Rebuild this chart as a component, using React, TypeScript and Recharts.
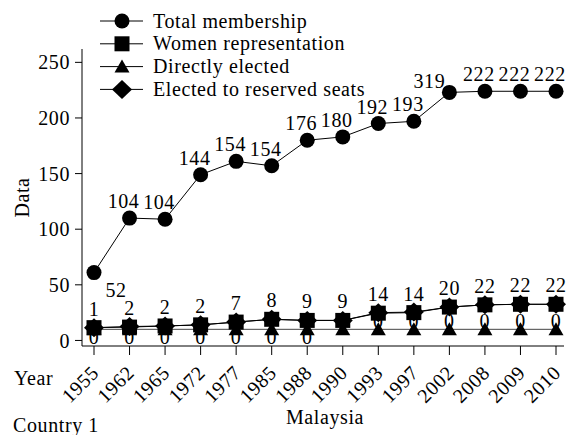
import React from "react";
import { LineChart, Line, XAxis, YAxis, Legend, LabelList, Label } from "recharts";

const FONT = "'Liberation Serif', 'Times New Roman', serif";

const years = ["1955", "1962", "1965", "1972", "1977", "1985", "1988", "1990", "1993", "1997", "2002", "2008", "2009", "2010"];

// plotted positions
const totalMembership = [61, 110, 109, 149, 161, 157, 180, 183, 195, 197, 223, 224, 224, 224];
const womenRepresentation = [11.5, 12, 13, 14, 16.5, 19, 18, 18, 24.5, 25, 30, 32, 32.5, 32.5];
const directlyElected = [10, 10, 10, 10, 10, 10, 10, 10, 10, 10, 10, 10, 10, 10];
const reservedSeats = [11.5, 12.5, 13, 14, 16.5, 19, 18, 18, 25, 25.5, 30, 32, 32.5, 32.5];

// the printed value labels
const totalLabels = ["52", "104", "104", "144", "154", "154", "176", "180", "192", "193", "319", "222", "222", "222"];
const womenLabels = ["1", "2", "2", "2", "7", "8", "9", "9", "14", "14", "20", "22", "22", "22"];
const directLabels = ["0", "0", "0", "0", "0", "0", "0", "0", "0", "0", "0", "0", "0", "0"];

const yTicks = [0, 50, 100, 150, 200, 250];

type Shape = "circle" | "square" | "triangle" | "diamond";

const seriesList: { key: string; name: string; shape: Shape }[] = [
  { key: "total", name: "Total membership", shape: "circle" },
  { key: "women", name: "Women representation", shape: "square" },
  { key: "direct", name: "Directly elected", shape: "triangle" },
  { key: "reserved", name: "Elected to reserved seats", shape: "diamond" },
];

const data = years.map((year, i) => ({
  year,
  total: totalMembership[i],
  women: womenRepresentation[i],
  direct: directlyElected[i],
  reserved: reservedSeats[i],
  totalLabel: totalLabels[i],
  womenLabel: womenLabels[i],
}));

const textStyle = { fontFamily: FONT, fontSize: 20, fill: "#000", letterSpacing: 0.6 };

function Marker({ shape, cx, cy }: { shape: Shape; cx: number; cy: number }) {
  if (shape === "circle") return <circle cx={cx} cy={cy} r={7.5} fill="#000" />;
  if (shape === "square") return <rect x={cx - 7.5} y={cy - 7.5} width={15} height={15} fill="#000" />;
  if (shape === "triangle")
    return <polygon points={`${cx},${cy - 7} ${cx + 7.5},${cy + 6} ${cx - 7.5},${cy + 6}`} fill="#000" />;
  return <polygon points={`${cx},${cy - 9.5} ${cx + 10},${cy} ${cx},${cy + 9.5} ${cx - 10},${cy}`} fill="#000" />;
}

const dotFor = (shape: Shape) => (p: any) => <Marker key={`d${p.index}`} shape={shape} cx={p.cx} cy={p.cy} />;

// "0" labels sit under the triangles, below at first and above later on
const directDot = (p: any) => {
  const below = p.index < 7;
  return (
    <g key={`t${p.index}`}>
      <text x={p.cx} y={p.cy + (below ? 15 : -1)} textAnchor="middle" {...textStyle}>
        {directLabels[p.index]}
      </text>
      <Marker shape="triangle" cx={p.cx} cy={p.cy} />
    </g>
  );
};

const totalLabel = (p: any) => {
  let dx = -6;
  let dy = -10;
  if (p.index === 0) {
    dx = 22;
    dy = 24;
  } else if (p.index === 10) {
    dx = -20;
    dy = -4;
  }
  return (
    <text key={`l${p.index}`} x={p.x + dx} y={p.y + dy} textAnchor="middle" {...textStyle}>
      {p.value}
    </text>
  );
};

const womenLabel = (p: any) => (
  <text key={`w${p.index}`} x={p.x} y={p.y - 12} textAnchor="middle" {...textStyle}>
    {p.value}
  </text>
);

const YearTick = ({ x, y, payload }: any) => (
  <g transform={`translate(${x + 6},${y + 17})`}>
    <text transform="rotate(-45)" textAnchor="end" {...textStyle}>
      {payload.value}
    </text>
  </g>
);

const LegendBox = () => (
  <svg width={300} height={100}>
    {seriesList.map((s, i) => {
      const cy = 14 + i * 22.8;
      return (
        <g key={s.key}>
          <line x1={2} x2={45} y1={cy} y2={cy} stroke="#000" strokeWidth={1} />
          <Marker shape={s.shape} cx={24} cy={cy} />
          <text x={55} y={cy + 6.5} {...textStyle}>
            {s.name}
          </text>
        </g>
      );
    })}
  </svg>
);

const overlay = { position: "absolute" as const, fontFamily: FONT, fontSize: 20, lineHeight: "20px", letterSpacing: 0.6, color: "#000" };

export default function App() {
  return (
    <div style={{ position: "absolute", left: 0, top: 0, width: 584, height: 435, background: "#fff" }}>
      <LineChart width={584} height={435} data={data} margin={{ top: 49, right: 20, bottom: 39, left: 32 }}>
        <XAxis
          dataKey="year"
          padding={{ left: 12, right: 8 }}
          height={50}
          tickSize={9}
          tick={<YearTick />}
          interval={0}
          stroke="#000"
          tickLine={{ stroke: "#000" }}
        />
        <YAxis
          width={50}
          domain={[-5, 262]}
          ticks={yTicks}
          allowDataOverflow
          tickSize={7}
          tickMargin={5}
          stroke="#000"
          tick={textStyle}
        >
          <Label value="Data" angle={-90} position="left" offset={10} style={{ ...textStyle, textAnchor: "middle" }} />
        </YAxis>
        <Legend
          layout="vertical"
          align="center"
          verticalAlign="middle"
          wrapperStyle={{ top: 7, left: 98, width: 300 }}
          content={<LegendBox />}
        />
        <Line dataKey="reserved" name="Elected to reserved seats" stroke="#000" strokeWidth={1} dot={dotFor("diamond")} isAnimationActive={false} />
        <Line dataKey="direct" name="Directly elected" stroke="#444" strokeWidth={1} dot={directDot} isAnimationActive={false} />
        <Line dataKey="women" name="Women representation" stroke="#000" strokeWidth={1} dot={dotFor("square")} isAnimationActive={false}>
          <LabelList dataKey="womenLabel" content={womenLabel} />
        </Line>
        <Line dataKey="total" name="Total membership" stroke="#000" strokeWidth={1} dot={dotFor("circle")} isAnimationActive={false}>
          <LabelList dataKey="totalLabel" content={totalLabel} />
        </Line>
      </LineChart>
      <div style={{ ...overlay, left: 14, top: 368 }}>Year</div>
      <div style={{ ...overlay, left: 325, top: 407, transform: "translateX(-50%)" }}>Malaysia</div>
      <div style={{ ...overlay, left: 13, top: 415 }}>Country 1</div>
    </div>
  );
}
